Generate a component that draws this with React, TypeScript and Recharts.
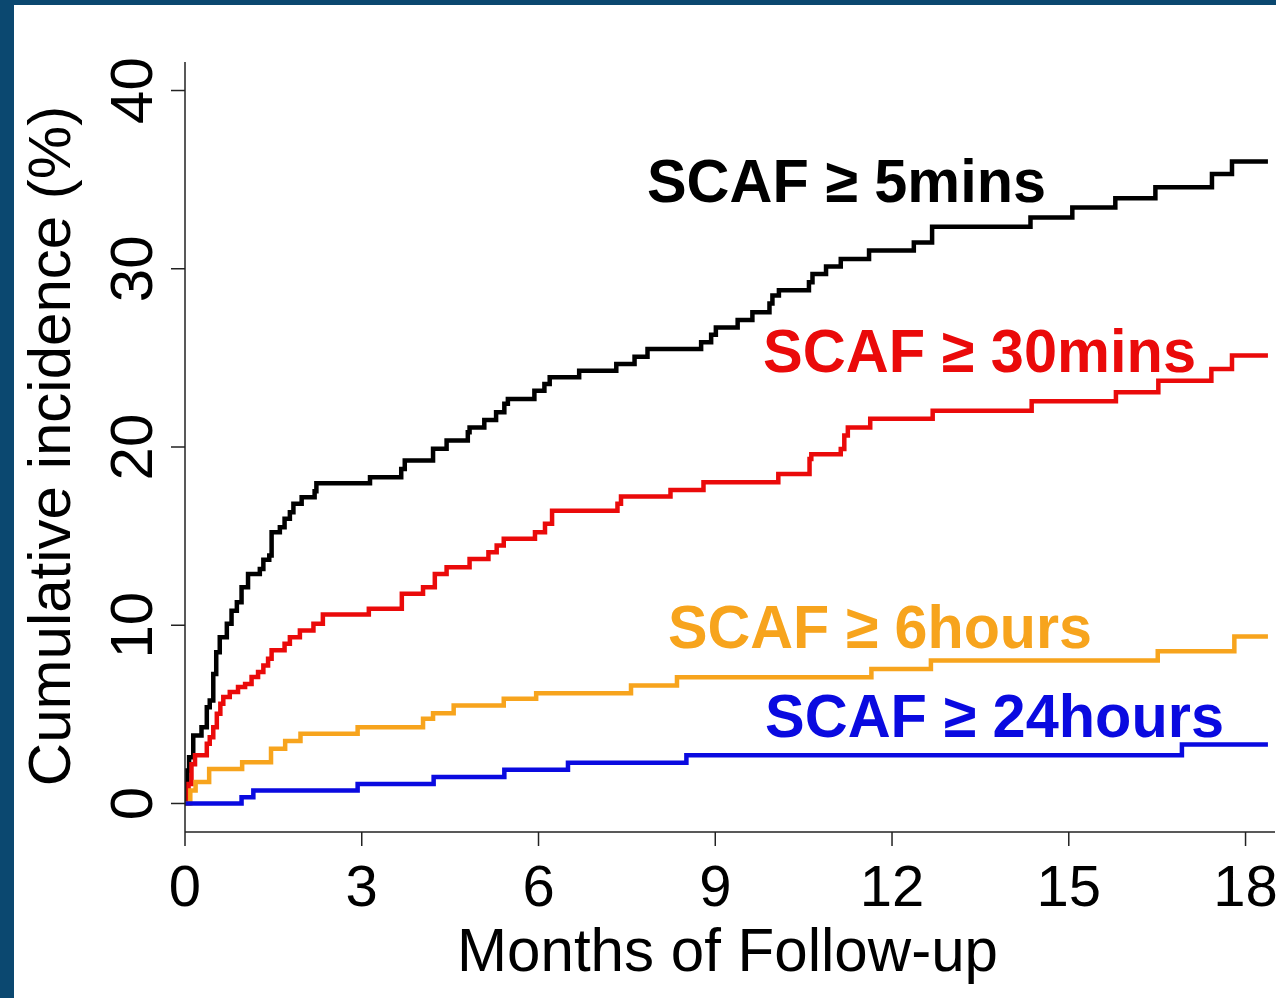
import { LineChart, Line, XAxis, YAxis, Customized } from "recharts";

const monthTicks = [0, 3, 6, 9, 12, 15, 18];
const incidenceTicks = [0, 10, 20, 30, 40];

// [months of follow-up, cumulative incidence %]
const scaf5min: [number, number][] = [
  [0, 0], [0.04, 1.85], [0.07, 2.6], [0.14, 3.81], [0.28, 4.28], [0.37, 5.4],
  [0.42, 5.78], [0.48, 7.27], [0.53, 8.49], [0.59, 9.33], [0.71, 10.08],
  [0.79, 10.82], [0.88, 11.29], [0.96, 12.13], [1.07, 12.88], [1.27, 13.16],
  [1.33, 13.67], [1.43, 13.91], [1.47, 15.22], [1.61, 15.5], [1.69, 15.97],
  [1.78, 16.34], [1.84, 16.81], [1.98, 17.18], [2.2, 17.52], [2.23, 17.97],
  [3.14, 18.3], [3.67, 18.77], [3.73, 19.24], [4.21, 19.9], [4.44, 20.36],
  [4.8, 20.83], [4.83, 21.1], [5.08, 21.52], [5.28, 21.95], [5.42, 22.42],
  [5.48, 22.7], [5.93, 23.16], [6.1, 23.54], [6.19, 23.91], [6.69, 24.28],
  [7.32, 24.66], [7.63, 25.07], [7.85, 25.5], [8.76, 25.87], [8.93, 26.3],
  [9.01, 26.71], [9.38, 27.13], [9.63, 27.56], [9.92, 28.05], [9.97, 28.5],
  [10.08, 28.8], [10.59, 29.24], [10.65, 29.7], [10.88, 30.12], [11.13, 30.55],
  [11.61, 31.02], [12.37, 31.48], [12.68, 32.36], [14.35, 32.88], [15.06, 33.44],
  [15.79, 33.96], [16.47, 34.57], [17.43, 35.32], [17.77, 36.02], [18.38, 36.02],
];

const scaf30min: [number, number][] = [
  [0, 0], [0.06, 1.1], [0.11, 2.2], [0.17, 2.7], [0.37, 3.35], [0.42, 3.72],
  [0.48, 4.28], [0.54, 5.03], [0.6, 5.59], [0.65, 5.97], [0.76, 6.25],
  [0.9, 6.53], [1.02, 6.71], [1.13, 7.09], [1.24, 7.37], [1.33, 7.74],
  [1.41, 8.12], [1.47, 8.59], [1.69, 8.96], [1.78, 9.33], [1.95, 9.71],
  [2.18, 10.09], [2.34, 10.6], [3.12, 10.92], [3.68, 11.76], [4.04, 12.13],
  [4.24, 12.88], [4.44, 13.25], [4.83, 13.72], [5.15, 14.1], [5.29, 14.47],
  [5.41, 14.85], [5.94, 15.22], [6.11, 15.69], [6.23, 16.43], [7.34, 16.81],
  [7.4, 17.22], [8.24, 17.59], [8.8, 18.02], [10.07, 18.49], [10.6, 19.33],
  [10.63, 19.6], [11.13, 19.89], [11.19, 20.64], [11.25, 21.1], [11.63, 21.58],
  [12.69, 22.04], [14.37, 22.56], [15.8, 23.07], [16.52, 23.72], [17.42, 24.38],
  [17.77, 25.13], [18.38, 25.13],
];

const scaf6h: [number, number][] = [
  [0, 0], [0.09, 0.73], [0.18, 1.2], [0.41, 1.94], [0.97, 2.32], [1.46, 3.07],
  [1.7, 3.5], [1.96, 3.91], [2.93, 4.28], [4.04, 4.75], [4.21, 5.06],
  [4.56, 5.5], [5.41, 5.87], [5.96, 6.19], [7.57, 6.62], [8.35, 7.08],
  [11.65, 7.55], [12.66, 8.02], [16.51, 8.54], [17.81, 9.37], [18.38, 9.37],
];

const scaf24h: [number, number][] = [
  [0, 0], [0.96, 0.35], [1.16, 0.73], [2.93, 1.1], [4.22, 1.48], [5.42, 1.89],
  [6.5, 2.28], [8.51, 2.71], [16.92, 3.31], [18.38, 3.31],
];

const series = [
  { key: "5min", label: "SCAF \u2265 5mins", color: "#000000", steps: scaf5min },
  { key: "30min", label: "SCAF \u2265 30mins", color: "#ea0a0a", steps: scaf30min },
  { key: "6h", label: "SCAF \u2265 6hours", color: "#f7a41d", steps: scaf6h },
  { key: "24h", label: "SCAF \u2265 24hours", color: "#0a0ae0", steps: scaf24h },
];

const FONT = '"Liberation Sans", Arial, Helvetica, sans-serif';
const FRAME = "#0b4870";
const AXIS = "#222";

// where each curve's name sits (baseline start + stretched width)
const labelLayout: Record<string, { x: number; y: number; w: number }> = {
  "5min": { x: 647, y: 202, w: 399 },
  "30min": { x: 763, y: 372, w: 433 },
  "6h": { x: 668, y: 648, w: 424 },
  "24h": { x: 765, y: 737, w: 459 },
};

const toPoints = (steps: [number, number][]) => steps.map(([m, v]) => ({ m, v }));

function MonthTick({ x, y, payload }: any) {
  return (
    <text x={x} y={y + 58} textAnchor="middle" fontSize={58} fontFamily={FONT} fill="#000">
      {payload.value}
    </text>
  );
}

function IncidenceTick({ x, y, payload }: any) {
  const bx = x - 17;
  return (
    <text
      x={bx}
      y={y}
      transform={`rotate(-90 ${bx} ${y})`}
      textAnchor="middle"
      fontSize={60}
      fontFamily={FONT}
      fill="#000"
    >
      {payload.value}
    </text>
  );
}

function Overlay() {
  return (
    <g fontFamily={FONT}>
      <text x={457} y={971} fontSize={62} fill="#000" textLength={541} lengthAdjust="spacingAndGlyphs">
        Months of Follow-up
      </text>
      <text x={70} y={446} transform="rotate(-90 70 446)" textAnchor="middle" fontSize={60} fill="#000">
        Cumulative incidence (%)
      </text>
      {series.map((s) => {
        const p = labelLayout[s.key];
        return (
          <text
            key={s.key}
            x={p.x}
            y={p.y}
            fontSize={62}
            fontWeight="bold"
            fill={s.color}
            textLength={p.w}
            lengthAdjust="spacingAndGlyphs"
          >
            {s.label}
          </text>
        );
      })}
    </g>
  );
}

export default function App() {
  return (
    <div
      style={{
        position: "absolute",
        left: 0,
        top: 0,
        width: 1276,
        height: 998,
        background: "#fff",
        overflow: "hidden",
      }}
    >
      <LineChart width={1276} height={998} margin={{ top: 62, right: 1, bottom: 0, left: 0 }}>
        <XAxis
          dataKey="m"
          type="number"
          domain={[0, 18.5]}
          ticks={monthTicks}
          allowDataOverflow
          height={166}
          tickSize={14}
          axisLine={{ stroke: AXIS, strokeWidth: 1.5 }}
          tickLine={{ stroke: AXIS, strokeWidth: 1.5 }}
          tick={<MonthTick />}
        />
        <YAxis
          type="number"
          domain={[-1.6, 41.6]}
          ticks={incidenceTicks}
          allowDataOverflow
          width={185}
          tickSize={14}
          axisLine={{ stroke: AXIS, strokeWidth: 1.5 }}
          tickLine={{ stroke: AXIS, strokeWidth: 1.5 }}
          tick={<IncidenceTick />}
        />
        {series.map((s) => (
          <Line
            key={s.key}
            data={toPoints(s.steps)}
            dataKey="v"
            type="stepAfter"
            stroke={s.color}
            strokeWidth={4.5}
            dot={false}
            activeDot={false}
            isAnimationActive={false}
          />
        ))}
        <Customized component={<Overlay />} />
      </LineChart>
      <div style={{ position: "absolute", left: 0, top: 0, width: 14, height: 998, background: FRAME }} />
      <div style={{ position: "absolute", left: 0, top: 0, width: 1276, height: 5, background: FRAME }} />
    </div>
  );
}
